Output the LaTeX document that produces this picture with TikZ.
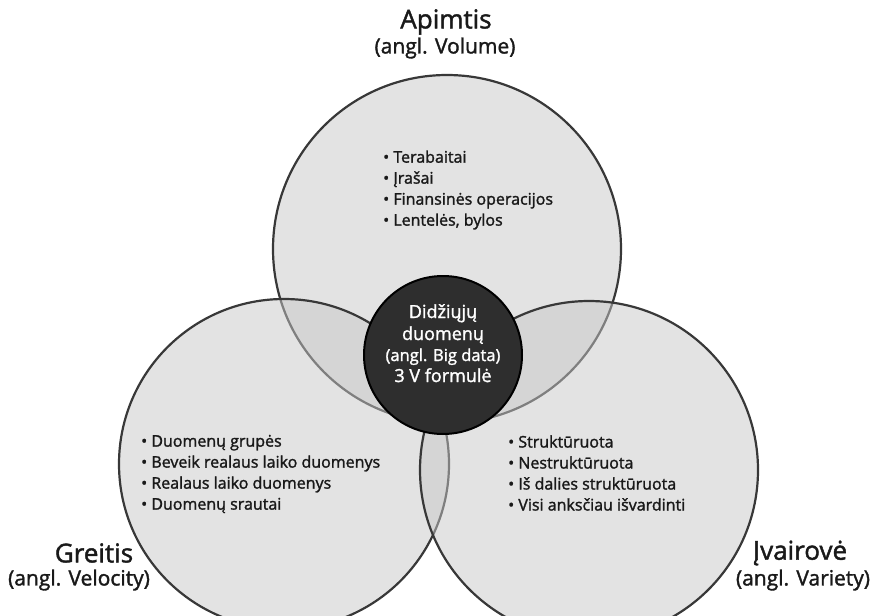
\documentclass[tikz,border=0pt]{standalone}
\usepackage{fontspec}
\setmainfont{Open Sans}[UprightFeatures={FakeBold=1.6}]
\begin{document}
\begin{tikzpicture}[x=1pt,y=-1pt,
  bigc/.style={circle, draw=black!78, line width=2.2pt, fill=black!22, fill opacity=0.5, text opacity=1, inner sep=0pt},
  core/.style={circle, draw=black, line width=2pt, fill=black!82, inner sep=0pt, minimum size=158pt},
  title/.style={font=\fontsize{26}{28}\selectfont, text=black!90, inner sep=0pt},
  sub/.style={font=\fontsize{21}{24}\selectfont, text=black!90, inner sep=0pt},
  list/.style={font=\fontsize{16}{21}\selectfont, text=black!90, align=left, anchor=west, inner sep=0pt},
  coretext/.style={text=white, anchor=base, inner sep=0pt, font=\fontsize{18}{22}\selectfont}]
\useasboundingbox (0,0) rectangle (876,616);
\node[bigc, minimum size=348pt] (vol) at (447,249) {};
\node[bigc, minimum size=330pt] (vel) at (284,464) {};
\node[bigc, minimum size=338pt] (var) at (589,470) {};
\node[core] (big) at (443,355) {};
\node[coretext] (c1) at (443,318) {Didžiųjų};
\node[coretext] (c2) at (443,340) {duomenų};
\node[coretext, font=\fontsize{16.5}{20}\selectfont] (c3) at (443,361) {(angl. Big data)};
\node[coretext] (c4) at (443,382) {3 V formulė};
\node[title] (volt) at (446,22) {Apimtis};
\node[sub] (vols) at (445,48) {(angl. Volume)};
\node[title] (velt) at (94,553) {Greitis};
\node[sub] (vels) at (79,580) {(angl. Velocity)};
\node[title] (vart) at (800,553) {Įvairovė};
\node[sub] (vars) at (803,580) {(angl. Variety)};
\node[list] (voll) at (383,190) {• Terabaitai\\• Įrašai\\• Finansinės operacijos\\• Lentelės, bylos};
\node[list] (vell) at (141,474) {• Duomenų grupės\\• Beveik realaus laiko duomenys\\• Realaus laiko duomenys\\• Duomenų srautai};
\node[list] (varl) at (508,473) {• Struktūruota\\• Nestruktūruota\\• Iš dalies struktūruota\\• Visi anksčiau išvardinti};
\end{tikzpicture}
\end{document}
